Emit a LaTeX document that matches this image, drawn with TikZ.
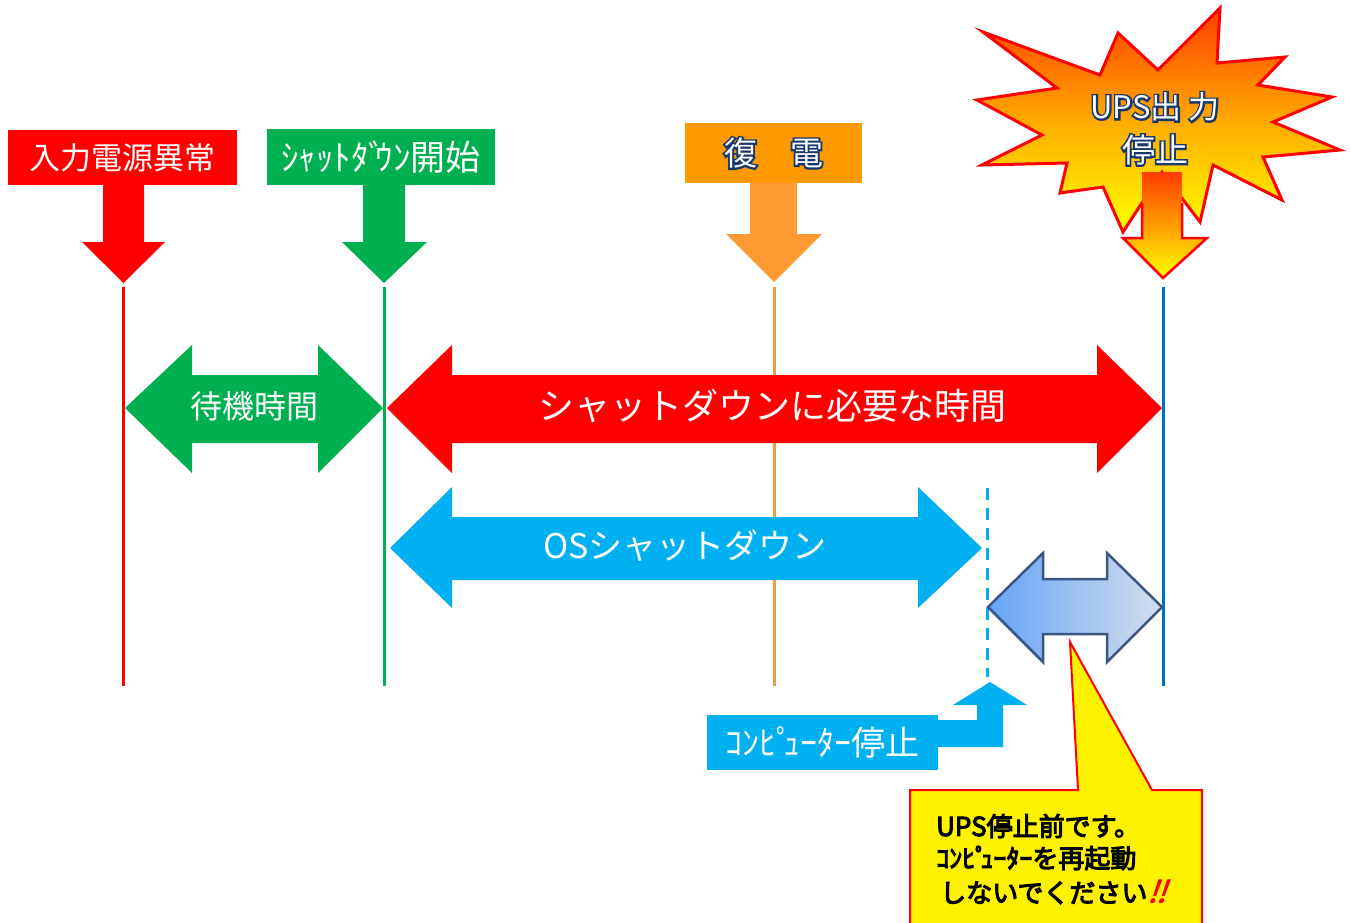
\documentclass[tikz,border=0pt]{standalone}
\usepackage{fontspec}
\newfontfamily\jp{Noto Sans CJK JP}
\newfontfamily\jpb[FakeBold=4]{Noto Sans CJK JP}
\newfontfamily\jpsl[FakeBold=3,FakeSlant=0.35]{Noto Sans CJK JP}
\usetikzlibrary{calc}
\definecolor{cRed}{RGB}{255,0,0}
\definecolor{cGreen}{RGB}{0,176,80}
\definecolor{cOrange}{RGB}{255,153,0}
\definecolor{cOrangeL}{RGB}{255,153,51}
\definecolor{cOrangeLine}{RGB}{247,150,70}
\definecolor{cCyan}{RGB}{0,176,240}
\definecolor{cBlue}{RGB}{0,112,192}
\definecolor{cNavy}{RGB}{23,55,110}
\definecolor{cSlate}{RGB}{59,86,128}
\definecolor{cBurstTop}{RGB}{255,60,0}
\definecolor{cBurstMid}{RGB}{255,170,0}
\definecolor{cBurstBot}{RGB}{255,255,0}
\definecolor{cGradL}{RGB}{100,165,248}
\definecolor{cGradR}{RGB}{214,222,236}
\tikzset{
  labelbox/.style={inner sep=0pt, text=white, minimum width=#1},
  fs/.style={font=\jp\fontsize{#1}{#1}\selectfont},
  wtext/.style={text=white, inner sep=0pt},
  vline/.style={line width=3pt},
  calloutline/.style={font=\jpb\fontsize{26}{26}\selectfont, inner sep=0pt, anchor=west, text=black},
}
% white text with a navy outline: a navy stroked copy behind, white text in front
\newcommand\OutlineOn{\special{pdf:literal direct 2 Tr 3.6 w 0.09 0.22 0.43 RG}}
\newcommand\OutlineOff{\special{pdf:literal direct 0 Tr}}
\newcommand\GlowText[4]{%
  \node[inner sep=0pt,text=cNavy,fs=#3] at (#1) {\OutlineOn #4\OutlineOff};
  \node[inner sep=0pt,text=white,fs=#3] (#2) at (#1) {#4};
}
\newcommand\hk{\kern-0.3em}
\begin{document}
\begin{tikzpicture}[x=1pt,y=-1pt]
\useasboundingbox (0,0) rectangle (1351,922);
\clip (0,0) rectangle (1351,922);

% ---------- vertical time lines ----------
\coordinate (rTop) at (123,287);   \coordinate (rBot) at (123,686);
\coordinate (gTop) at (384,287);   \coordinate (gBot) at (384,686);
\coordinate (oTop) at (774,287);   \coordinate (oBot) at (774,686);
\coordinate (bTop) at (1163,287);  \coordinate (bBot) at (1163,686);
\coordinate (dTop) at (987,488);   \coordinate (dBot) at (987,677);
\draw[vline, cRed] (rTop) -- (rBot);
\draw[vline, cGreen] (gTop) -- (gBot);
\draw[vline, cOrangeLine] (oTop) -- (oBot);
\draw[vline, cBlue] (bTop) -- (bBot);
\draw[vline, cCyan, dash pattern=on 12pt off 8pt] (dTop) -- (dBot);

% ---------- top label boxes ----------
\node[labelbox=229, minimum height=55, fill=cRed, fs=31] (inp) at (122.5,157.5) {入力電源異常};
\node[labelbox=228, minimum height=56, fill=cGreen, fs=35] (sds) at (381,157) {ｼｬｯﾄﾀﾞ\hk ｳﾝ開始};
\node[labelbox=177, minimum height=60, fill=cOrange] (fkd) at (773.5,153) {};
\GlowText{fkd.center}{fkdtxt}{33}{復　電}

% ---------- down arrows ----------
\fill[cRed] (103,185) -- (144,185) -- (144,242) -- (165,242) -- (123.5,283) -- (82,242) -- (103,242) -- cycle;
\fill[cGreen] (363,185) -- (405,185) -- (405,242) -- (427,242) -- (384,283) -- (342,242) -- (363,242) -- cycle;
\fill[cOrangeL] (750,183) -- (797,183) -- (797,234) -- (822,234) -- (774,282) -- (726,234) -- (750,234) -- cycle;

% ---------- starburst ----------
\path[top color=cBurstTop, bottom color=cBurstBot, middle color=cBurstMid]
  (1220,8) -- (1217,63) -- (1285,57) -- (1258,85) -- (1332,97) -- (1273,122) -- (1340,150)
  -- (1263,157) -- (1282,200) -- (1213,165) -- (1200,222) -- (1162,172) -- (1123,232)
  -- (1103,187) -- (1060,193) -- (1067,163) -- (982,165) -- (1042,135) -- (977,100)
  -- (1057,88) -- (983,32) -- (1100,75) -- (1118,33) -- (1158,70) -- cycle;
\draw[cRed, line width=3pt, line join=miter]
  (1220,8) -- (1217,63) -- (1285,57) -- (1258,85) -- (1332,97) -- (1273,122) -- (1340,150)
  -- (1263,157) -- (1282,200) -- (1213,165) -- (1200,222) -- (1162,172) -- (1123,232)
  -- (1103,187) -- (1060,193) -- (1067,163) -- (982,165) -- (1042,135) -- (977,100)
  -- (1057,88) -- (983,32) -- (1100,75) -- (1118,33) -- (1158,70) -- cycle;
% arrow out of the starburst
\path[top color=cBurstTop, bottom color=cBurstBot]
  (1142,172) -- (1182,172) -- (1182,238) -- (1207,238) -- (1163,278) -- (1123,238) -- (1142,238) -- cycle;
\draw[cRed, line width=2.5pt, line join=miter]
  (1142,203) -- (1142,238) -- (1123,238) -- (1163,278) -- (1207,238) -- (1182,238) -- (1182,203);
\GlowText{1155,107}{ups1}{31}{UPS出 力}
\GlowText{1155,150}{ups2}{33}{停止}

% ---------- horizontal double arrows ----------
\fill[cGreen] (125,408) -- (192,345) -- (192,375) -- (318,375) -- (318,345) -- (383,408)
  -- (318,473) -- (318,443) -- (192,443) -- (192,473) -- cycle;
\node[wtext, fs=32] (wait) at (254,406) {待機時間};

\fill[cRed] (387,408) -- (452,345) -- (452,375) -- (1097,375) -- (1097,345) -- (1162,408)
  -- (1097,473) -- (1097,443) -- (452,443) -- (452,473) -- cycle;
\node[wtext, fs=36] (need) at (772,406) {シャットダウンに必要な時間};

\fill[cCyan] (390,548) -- (452,487) -- (452,517) -- (918,517) -- (918,487) -- (982,548)
  -- (918,608) -- (918,580) -- (452,580) -- (452,608) -- cycle;
\node[wtext, fs=34] (os) at (685,546) {OSシャットダウン};

\path[left color=cGradL, right color=cGradR, draw=cSlate, line width=2.5pt, line join=miter]
  (988,607) -- (1043,553) -- (1043,579) -- (1107,579) -- (1107,553) -- (1162,607)
  -- (1107,662) -- (1107,634) -- (1043,634) -- (1043,662) -- cycle;

% ---------- computer stop label ----------
\node[labelbox=231, minimum height=55, fill=cCyan, fs=34] (cstop) at (822.5,742.5) {ｺﾝﾋﾟ\hk ｭｰﾀｰ停止};
\fill[cCyan] (cstop.east |- 0,720) -- (977,720) -- (977,705) -- (953,705) -- (990,682) -- (1027,705)
  -- (1003,705) -- (1003,747) -- (cstop.east |- 0,747) -- cycle;

% ---------- callout ----------
\filldraw[fill=yellow, draw=cRed, line width=2pt, line join=miter]
  (910,790) -- (1078,790) -- (1070,642) -- (1152,790) -- (1202,790) -- (1202,940) -- (910,940) -- cycle;
\node[calloutline] (c1) at (936,826) {UPS停止前です。};
\node[calloutline] (c2) at (936,858) {ｺﾝﾋﾟ\hk ｭｰﾀｰを再起動};
\node[calloutline] (c3) at (940,892) {しないでください\textcolor{red}{\jpsl\fontsize{30}{30}\selectfont ‼}};
\end{tikzpicture}
\end{document}
